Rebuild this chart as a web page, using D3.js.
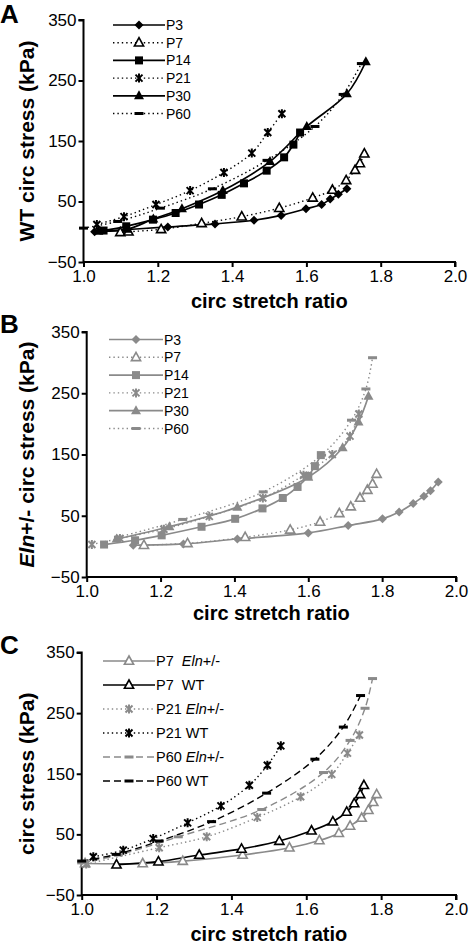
<!DOCTYPE html>
<html><head><meta charset="utf-8">
<script src="https://cdn.jsdelivr.net/npm/d3@7"></script>
<style>body{margin:0;background:#fff}svg{display:block}text{font-family:"Liberation Sans",Arial,sans-serif}</style>
</head><body><svg id="c" width="472" height="944"></svg>
<script>
// ---- data (stretch ratio, stress kPa) ----
const xTicks = [1.0, 1.2, 1.4, 1.6, 1.8, 2.0];
const yTicks = [-50, 50, 150, 250, 350];

// Panel A : WT
const A_P3  = [[1.03,0],[1.227,8],[1.354,13],[1.459,19],[1.532,27],[1.599,38],[1.641,45],[1.664,54],[1.686,62],[1.709,71]];
const A_P7  = [[1.099,-1],[1.121,0],[1.209,4],[1.318,14],[1.426,25],[1.527,39],[1.617,56],[1.670,69],[1.707,85],[1.731,102],[1.744,113],[1.756,129]];
const A_P14 = [[1.054,2],[1.115,9],[1.187,20],[1.248,31],[1.311,45],[1.372,61],[1.432,80],[1.493,101],[1.540,123],[1.565,144],[1.583,164]];
const A_P21 = [[1.036,12],[1.109,25],[1.195,45],[1.287,68],[1.378,98],[1.453,130],[1.496,164],[1.534,195]];
const A_P30 = [[1.04,1],[1.117,4],[1.188,21],[1.265,38],[1.375,68],[1.502,116],[1.601,174],[1.709,228],[1.760,281]];
const A_P60 = [[1.0,6],[1.092,17],[1.207,39],[1.347,71],[1.494,118],[1.623,174],[1.699,227],[1.748,278]];

// Panel B : Eln+/-
const B_P3  = [[1.126,2],[1.262,4],[1.408,12],[1.600,22],[1.708,34],[1.801,45],[1.846,56],[1.884,70],[1.913,82],[1.931,91],[1.952,105]];
const B_P7  = [[1.155,2],[1.273,5],[1.429,15],[1.551,27],[1.632,40],[1.684,54],[1.715,65],[1.740,79],[1.760,92],[1.774,102],[1.785,118]];
const B_P14 = [[1.047,3],[1.131,10],[1.203,18],[1.311,32],[1.402,45],[1.476,62],[1.531,79],[1.571,97],[1.600,115],[1.618,131],[1.634,149]];
const B_P21 = [[1.014,3],[1.090,13],[1.209,28],[1.332,49],[1.477,79],[1.587,116],[1.665,150],[1.713,180],[1.737,216]];
const B_P30 = [[1.081,12],[1.224,32],[1.408,64],[1.600,113],[1.693,161],[1.736,203],[1.763,245]];
const B_P60 = [[1.086,15],[1.260,44],[1.478,89],[1.636,149],[1.717,206],[1.756,257],[1.774,308]];

// Panel C : comparison
const C_P7_Eln  = [[1.009,2],[1.163,2],[1.270,6],[1.430,16],[1.555,28],[1.635,40],[1.687,52],[1.717,64],[1.748,77],[1.766,90],[1.779,103],[1.788,116]];
const C_P7_WT   = [[1.093,0],[1.205,5],[1.314,16],[1.427,26],[1.528,39],[1.614,56],[1.671,71],[1.708,87],[1.728,101],[1.744,116],[1.754,131]];
const C_P21_Eln = [[1.012,1],[1.207,28],[1.334,46],[1.469,78],[1.585,112],[1.668,149],[1.710,184],[1.742,214]];
const C_P21_WT  = [[1.031,13],[1.111,24],[1.191,43],[1.283,69],[1.372,97],[1.448,131],[1.496,164],[1.532,196]];
const C_P60_Eln = [[1.0,3],[1.098,16],[1.258,46],[1.481,91],[1.646,152],[1.717,205],[1.757,258],[1.777,307]];
const C_P60_WT  = [[1.0,6],[1.092,17],[1.207,39],[1.347,71],[1.494,118],[1.623,174],[1.699,227],[1.745,279]];

// ---- drawing ----
const svg = d3.select("#c");
const GRAY = "#8a8a8a", BLACK = "#000";
const DOT = "1.4,3", DASH = "7,4";
const NB = "\u00a0";

function marker(g, type, color, x, y) {
  if (type === "diamond") {
    g.append("path").attr("d", `M${x},${y-4.5}L${x+4.5},${y}L${x},${y+4.5}L${x-4.5},${y}Z`).attr("fill", color);
  } else if (type === "square") {
    g.append("rect").attr("x", x-4).attr("y", y-4).attr("width", 8).attr("height", 8).attr("fill", color);
  } else if (type === "tri") {
    g.append("path").attr("d", `M${x},${y-5.5}L${x+5},${y+3.5}L${x-5},${y+3.5}Z`).attr("fill", color);
  } else if (type === "otri") {
    g.append("path").attr("d", `M${x},${y-5}L${x+4.6},${y+3.3}L${x-4.6},${y+3.3}Z`).attr("fill", "#fff").attr("stroke", color).attr("stroke-width", 1.6);
  } else if (type === "star") {
    g.append("path").attr("d", `M${x-3.5},${y-3.5}L${x+3.5},${y+3.5}M${x+3.5},${y-3.5}L${x-3.5},${y+3.5}M${x},${y-4.5}L${x},${y+4.5}`).attr("stroke", color).attr("stroke-width", 2).attr("fill", "none");
  } else if (type === "bar") {
    g.append("rect").attr("x", x-4.5).attr("y", y-1.5).attr("width", 9).attr("height", 3).attr("fill", color);
  }
}

function panel(opt) {
  const {left, right, top, bottom, series, letter, ytitle, legend} = opt;
  const x = d3.scaleLinear().domain([1.0, 2.0]).range([left, right]);
  const y = d3.scaleLinear().domain([-50, 350]).range([bottom, top]);
  const g = svg.append("g");

  // axes
  const gx = g.append("g").attr("transform", `translate(0,${bottom})`)
    .call(d3.axisBottom(x).tickValues(xTicks).tickFormat(d3.format(".1f")).tickSize(5).tickPadding(3));
  const gy = g.append("g").attr("transform", `translate(${left},0)`)
    .call(d3.axisLeft(y).tickValues(yTicks).tickSize(5).tickPadding(2));
  [gx, gy].forEach(a => {
    a.select(".domain").attr("stroke", "#000").attr("stroke-width", 2);
    a.selectAll(".tick line").attr("stroke", "#000").attr("stroke-width", 2);
    a.selectAll("text").attr("font-size", 17).attr("fill", "#000").style("font-family", '"Liberation Sans",Arial,sans-serif');
  });
  gy.select(".domain").attr("d", `M-5,${top}H0V${bottom}`);
  gx.select(".domain").attr("d", `M${left},0H${right}V5`);

  const line = d3.line().x(d => x(d[0])).y(d => y(d[1])).curve(d3.curveCatmullRom.alpha(0.5));
  series.forEach(s => {
    g.append("path").attr("d", line(s.data)).attr("fill", "none").attr("stroke", s.color)
      .attr("stroke-width", s.dash ? 1.4 : 1.7).attr("stroke-dasharray", s.dash || null);
  });
  series.forEach(s => {
    const mg = g.append("g");
    s.data.forEach(d => marker(mg, s.marker, s.color, x(d[0]), y(d[1])));
  });

  // legend
  series.forEach((s, i) => {
    const ly = legend.y + i * legend.dy;
    g.append("line").attr("x1", legend.x1).attr("x2", legend.x2).attr("y1", ly).attr("y2", ly)
      .attr("stroke", s.color).attr("stroke-width", s.dash ? 1.4 : 1.7).attr("stroke-dasharray", s.dash || null);
    marker(g, s.marker, s.color, (legend.x1 + legend.x2) / 2, ly);
    const t = g.append("text").attr("x", legend.x2 + 1).attr("y", ly + 5).attr("font-size", legend.fs).attr("fill", "#000");
    s.label.forEach(p => t.append("tspan").text(p[0]).attr("font-style", p[1] ? "italic" : null));
  });

  // panel letter
  g.append("text").attr("x", 0).attr("y", top + opt.letterDy).attr("font-size", 26).attr("font-weight", "bold").text(letter);

  // x title
  g.append("text").attr("x", (left + right) / 2).attr("y", bottom + opt.xtDy).attr("text-anchor", "middle")
    .attr("font-size", 20).attr("font-weight", "bold").text("circ stretch ratio");
  // y title
  const yt = g.append("text").attr("transform", `translate(${opt.ytX},${(top + bottom) / 2}) rotate(-90)`)
    .attr("text-anchor", "middle").attr("font-size", 21).attr("font-weight", "bold");
  ytitle.forEach(p => yt.append("tspan").text(p[0]).attr("font-style", p[1] ? "italic" : null));
}

panel({
  left: 83.5, right: 455, top: 20, bottom: 262, letter: "A", letterDy: 3, xtDy: 46, ytX: 34,
  ytitle: [["WT circ stress (kPa)", false]],
  legend: {x1: 113, x2: 165, y: 25, dy: 17.7, fs: 14},
  series: [
    {data: A_P3,  color: BLACK, marker: "diamond", dash: null, label: [["P3"]]},
    {data: A_P7,  color: BLACK, marker: "otri",    dash: DOT,  label: [["P7"]]},
    {data: A_P14, color: BLACK, marker: "square",  dash: null, label: [["P14"]]},
    {data: A_P21, color: BLACK, marker: "star",    dash: DOT,  label: [["P21"]]},
    {data: A_P30, color: BLACK, marker: "tri",     dash: null, label: [["P30"]]},
    {data: A_P60, color: BLACK, marker: "bar",     dash: DOT,  label: [["P60"]]}
  ]
});

panel({
  left: 86.7, right: 456, top: 332, bottom: 577, letter: "B", letterDy: 1, xtDy: 43, ytX: 34,
  ytitle: [["Eln", true], ["+/- circ stress (kPa)", false]],
  legend: {x1: 109, x2: 163, y: 339.5, dy: 17.8, fs: 14},
  series: [
    {data: B_P3,  color: GRAY, marker: "diamond", dash: null, label: [["P3"]]},
    {data: B_P7,  color: GRAY, marker: "otri",    dash: DOT,  label: [["P7"]]},
    {data: B_P14, color: GRAY, marker: "square",  dash: null, label: [["P14"]]},
    {data: B_P21, color: GRAY, marker: "star",    dash: DOT,  label: [["P21"]]},
    {data: B_P30, color: GRAY, marker: "tri",     dash: null, label: [["P30"]]},
    {data: B_P60, color: GRAY, marker: "bar",     dash: DOT,  label: [["P60"]]}
  ]
});

panel({
  left: 81.7, right: 456, top: 652.5, bottom: 895, letter: "C", letterDy: 1, xtDy: 46, ytX: 34,
  ytitle: [["circ stress (kPa)", false]],
  legend: {x1: 103, x2: 155, y: 661, dy: 24, fs: 14.5},
  series: [
    {data: C_P7_Eln,  color: GRAY,  marker: "otri", dash: null, label: [["P7" + NB + NB], ["Eln", true], ["+/-"]]},
    {data: C_P7_WT,   color: BLACK, marker: "otri", dash: null, label: [["P7" + NB + NB + "WT"]]},
    {data: C_P21_Eln, color: GRAY,  marker: "star", dash: DOT,  label: [["P21" + NB], ["Eln", true], ["+/-"]]},
    {data: C_P21_WT,  color: BLACK, marker: "star", dash: DOT,  label: [["P21" + NB + "WT"]]},
    {data: C_P60_Eln, color: GRAY,  marker: "bar",  dash: DASH, label: [["P60" + NB], ["Eln", true], ["+/-"]]},
    {data: C_P60_WT,  color: BLACK, marker: "bar",  dash: DASH, label: [["P60" + NB + "WT"]]}
  ]
});
</script></body></html>
